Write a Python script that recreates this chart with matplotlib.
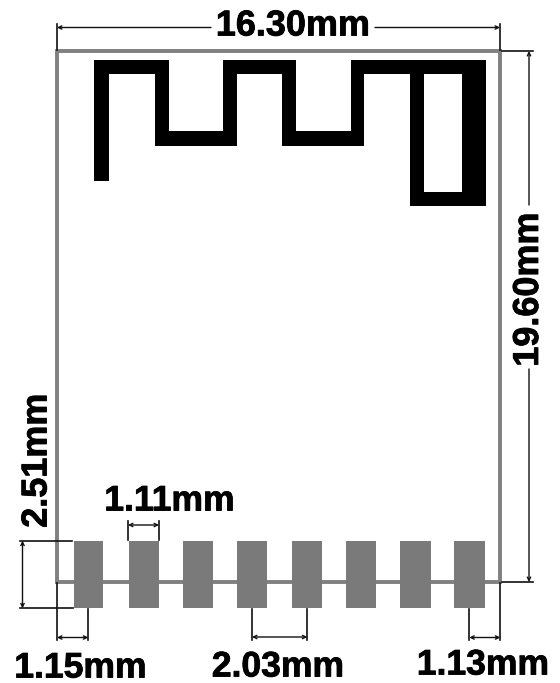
import matplotlib
matplotlib.use('Agg')
import matplotlib.pyplot as plt
from matplotlib.patches import Polygon, Rectangle
import matplotlib.patheffects as pe

# everything is in reference pixels, y going down
board_x = [57, 500]
board_y = [51, 582]

antenna_x = [94, 169, 169, 223, 223, 296.3, 296.3, 350.7, 350.7, 486.3, 486.3, 410, 410,
             364, 364, 281.7, 281.7, 236.5, 236.5, 154.5, 154.5, 108.7, 108.7, 94]
antenna_y = [59.5, 59.5, 131, 131, 59.5, 59.5, 131, 131, 59.5, 59.5, 205.7, 205.7, 73.5,
             73.5, 145.5, 145.5, 73.5, 73.5, 145.5, 145.5, 73.5, 73.5, 180.5, 180.5]
hole_x = [424.3, 461.7]
hole_y = [73.5, 192.3]

pad_left = [74, 129, 183, 237.3, 292, 346, 400.3, 454.3]
pad_right = [103.3, 158.7, 212.7, 267, 322.3, 376.3, 431, 485]
pad_top = 540.7
pad_bottom = 608.3

# dimension arrows: x0, y0, x1, y1
dim_arrows = [
    (57, 27.5, 211, 27.5),
    (500, 27.5, 375, 27.5),
    (529, 51, 529, 205),
    (529, 582, 529, 369),
    (22.5, 540.7, 22.5, 608.3),
    (128, 525, 159, 525),
    (57, 637.5, 88.3, 637.5),
    (252, 637, 307.3, 637),
    (469.3, 637.5, 500.3, 637.5),
]
double_ended = [False, False, False, False, True, True, True, True, True]

# extension lines: x0, y0, x1, y1
ext_lines = [
    (57, 24, 57, 50), (500, 24, 500, 50),
    (502, 51, 533, 51), (502, 582, 533, 582),
    (20, 540.7, 72, 540.7), (20, 608, 73, 608),
    (128, 521, 128, 540), (159, 521, 159, 540),
    (57, 583, 57, 640), (88.3, 609, 88.3, 640),
    (252, 609, 252, 640), (307.3, 609, 307.3, 640),
    (469.3, 609, 469.3, 640), (500.3, 583, 500.3, 640),
]

labels = ['16.30mm', '19.60mm', '2.51mm', '1.11mm', '1.15mm', '2.03mm', '1.13mm']
label_x = [293, 528.5, 37, 169.5, 80.5, 278, 483]
label_y = [26, 289.5, 460.5, 501, 668, 667, 665]
label_rot = [0, 90, 90, 0, 0, 0, 0]
label_px = [36, 36, 36, 35.5, 35.5, 35.5, 35.5]

fig = plt.figure(figsize=(5.6, 6.83), dpi=100)
ax = fig.add_axes([0, 0, 1, 1])
ax.set_xlim(0, 560)
ax.set_ylim(683, 0)
ax.axis('off')

# board outline
ax.plot([board_x[0], board_x[0], board_x[1], board_x[1], board_x[0]],
        [board_y[1], board_y[0], board_y[0], board_y[1], board_y[1]],
        color='#808080', lw=2.8, solid_joinstyle='miter', zorder=1)

# antenna trace
ax.add_patch(Polygon(list(zip(antenna_x, antenna_y)), closed=True, fc='black', ec='none', zorder=2))
ax.add_patch(Rectangle((hole_x[0], hole_y[0]), hole_x[1] - hole_x[0], hole_y[1] - hole_y[0],
                       fc='white', ec='none', zorder=3))

# pads
for l, r in zip(pad_left, pad_right):
    ax.add_patch(Rectangle((l, pad_top), r - l, pad_bottom - pad_top, fc='#7a7a7a', ec='none', zorder=3))

for x0, y0, x1, y1 in ext_lines:
    ax.plot([x0, x1], [y0, y1], color='#111111', lw=1.2, zorder=4)

for (x0, y0, x1, y1), both in zip(dim_arrows, double_ended):
    ax.annotate('', xy=(x0, y0), xytext=(x1, y1),
                arrowprops=dict(arrowstyle='<->' if both else '->', color='#111111', lw=1.0,
                                mutation_scale=6, shrinkA=0, shrinkB=0), zorder=5)

for txt, x, y, rot, px in zip(labels, label_x, label_y, label_rot, label_px):
    t = ax.text(x, y, txt, rotation=rot, fontsize=px * 0.72, fontfamily='Liberation Sans',
                fontweight='bold', ha='center', va='center', color='black', zorder=6)
    t.set_path_effects([pe.withStroke(linewidth=0.6, foreground='black')])

fig.savefig('out.png', dpi=100)
